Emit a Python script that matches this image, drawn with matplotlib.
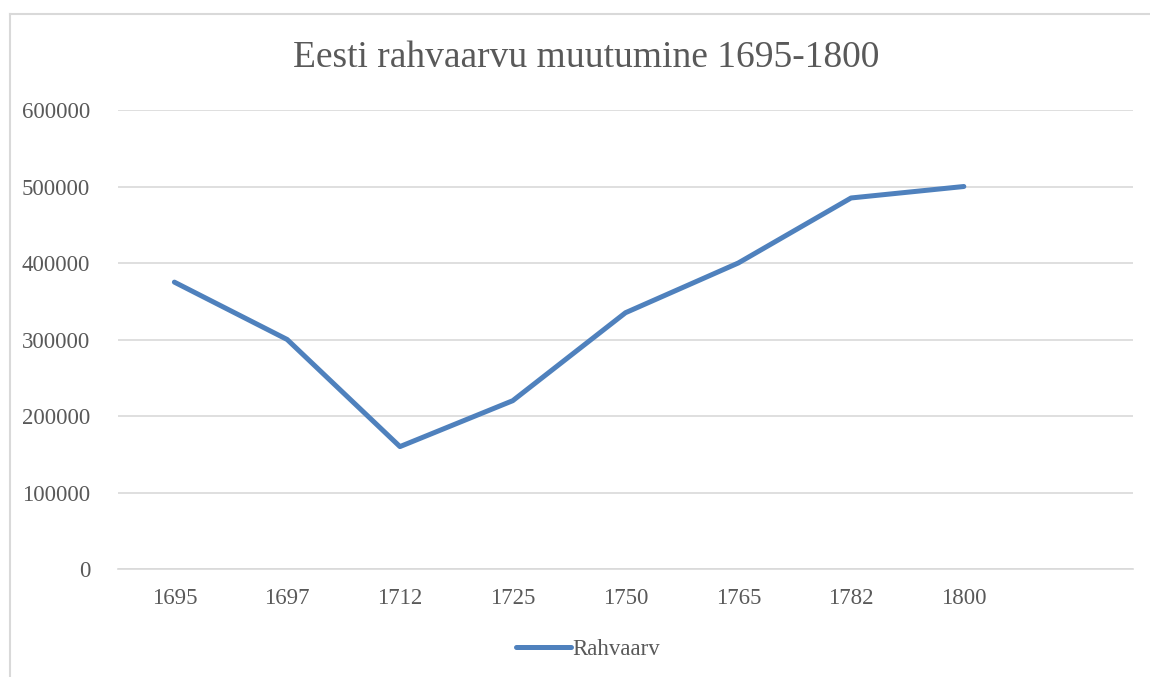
import matplotlib
matplotlib.use("Agg")
import matplotlib.pyplot as plt
from matplotlib.lines import Line2D

years = ["1695", "1697", "1712", "1725", "1750", "1765", "1782", "1800"]
population = [375000, 300000, 160000, 220000, 335000, 400000, 485000, 500000]
yticks = [0, 100000, 200000, 300000, 400000, 500000, 600000]

plt.rcParams['font.family'] = ['Liberation Serif', 'DejaVu Serif']
txt = '#595959'

fig = plt.figure(figsize=(11.5, 6.77), dpi=100)
# outer chart frame: only top and left edges visible
fig.lines.append(Line2D([9.5/1150, 9.5/1150], [0, 1-13.5/677], transform=fig.transFigure,
                        color='#D9D9D9', linewidth=1.5))
fig.lines.append(Line2D([9.5/1150, 1], [1-13.5/677, 1-13.5/677], transform=fig.transFigure,
                        color='#D9D9D9', linewidth=1.5))

ax = fig.add_axes([118/1150, 1-569/677, (1133-118)/1150, (569-110)/677])

x = list(range(len(years)))
line, = ax.plot(x, population, color='#4F81BD', linewidth=3.6,
                solid_capstyle='round', solid_joinstyle='round', label='Rahvaarv')
ax.set_xlim(-0.5, 8.5)
ax.set_ylim(0, 600000)
ax.set_yticks(yticks)
ax.set_yticklabels([str(v) for v in yticks])
ax.set_xticks(x)
ax.set_xticklabels(years)
ax.grid(axis='y', color='#D9D9D9', linewidth=1.2)
ax.set_axisbelow(True)
for s in ['top', 'right', 'left']:
    ax.spines[s].set_visible(False)
ax.spines['bottom'].set_color('#D9D9D9')
ax.spines['bottom'].set_linewidth(1.2)
ax.tick_params(axis='both', length=0, labelsize=16.5, colors=txt)
ax.tick_params(axis='y', pad=20)
ax.tick_params(axis='x', pad=14)

fig.text(586/1150, 1-58/677, 'Eesti rahvaarvu muutumine 1695-1800', ha='center',
         va='center', fontsize=27, color=txt)

leg = fig.legend(handles=[line], loc='center', bbox_to_anchor=(588/1150, 1-649/677),
                 frameon=False, fontsize=16.5, handlelength=2.4, handletextpad=0.05,
                 labelcolor=txt)

fig.savefig('out.png', dpi=100, facecolor='white')
